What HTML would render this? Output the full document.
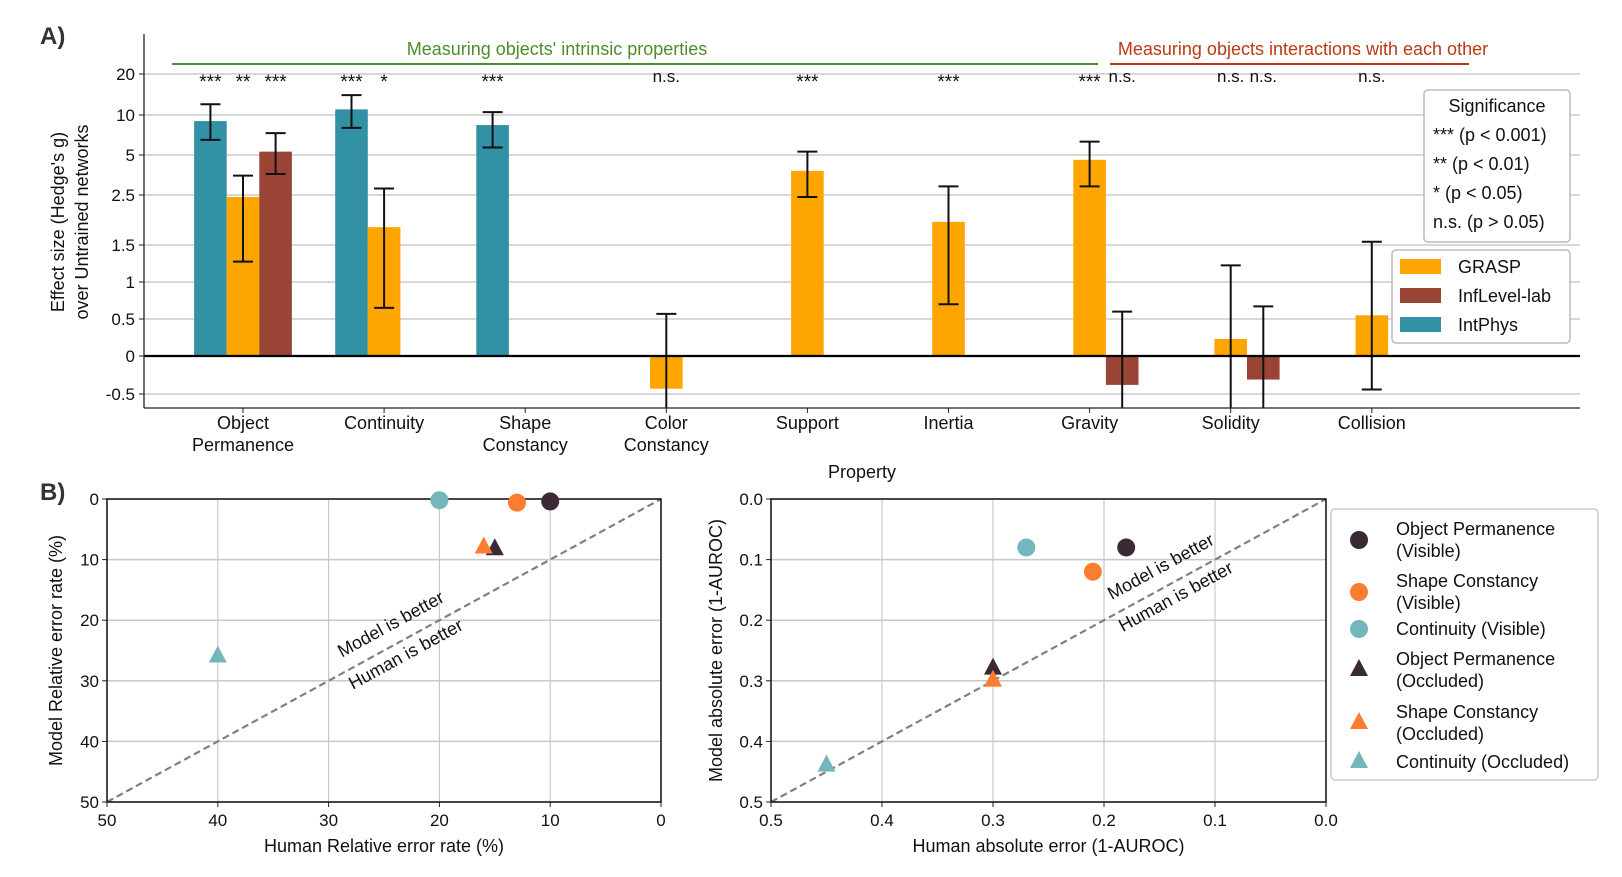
<!DOCTYPE html>
<html><head><meta charset="utf-8"><style>
html,body{margin:0;padding:0;background:#fff;}
svg{display:block;font-family:"Liberation Sans",Arial,sans-serif;}
</style></head><body>
<svg id="fig" width="1622" height="877" viewBox="0 0 1622 877" xmlns="http://www.w3.org/2000/svg">
<g id="pa"></g>
<g id="pb1"></g>
<g id="pb2"></g>
</svg>
<script>
// ---------- Panel A data ----------
const categories = ["Object Permanence","Continuity","Shape Constancy","Color Constancy","Support","Inertia","Gravity","Solidity","Collision"];
const catLines = [["Object","Permanence"],["Continuity"],["Shape","Constancy"],["Color","Constancy"],["Support"],["Inertia"],["Gravity"],["Solidity"],["Collision"]];
const seriesNames = ["GRASP","InfLevel-lab","IntPhys"];
const graspVals = [2.45, 1.8, null, -0.43, 3.8, 1.9, 4.6, 0.23, 0.55];
const graspLo   = [1.25, 0.65, null, -1.5, 2.45, 0.7, 2.9, -1.5, -0.44];
const graspHi   = [3.5, 2.8, null, 0.57, 5.3, 2.9, 6.3, 1.2, 1.55];
const graspSig  = ["**","*",null,"n.s.","***","***","***","n.s.","n.s."];
const inflVals  = [5.3, null, null, null, null, null, -0.38, -0.31, null];
const inflLo    = [3.6, null, null, null, null, null, -1.5, -1.5, null];
const inflHi    = [7.3, null, null, null, null, null, 0.6, 0.67, null];
const inflSig   = ["***",null,null,null,null,null,"n.s.","n.s.",null];
const intpVals  = [9.0, 11.0, 8.4, null, null, null, null, null, null];
const intpLo    = [6.5, 8.0, 5.7, null, null, null, null, null, null];
const intpHi    = [12.0, 14.0, 10.5, null, null, null, null, null, null];
const intpSig   = ["***","***","***",null,null,null,null,null,null];
const yTickVals = [-0.5, 0, 0.5, 1, 1.5, 2.5, 5, 10, 20];
const yTickLabels = ["-0.5","0","0.5","1","1.5","2.5","5","10","20"];

// ---------- Panel B data ----------
const bLabels = ["Object Permanence (Visible)","Shape Constancy (Visible)","Continuity (Visible)","Object Permanence (Occluded)","Shape Constancy (Occluded)","Continuity (Occluded)"];
const bMarkers = ["circle","circle","circle","triangle","triangle","triangle"];
const relHuman = [10, 13, 20, 15, 16, 40];
const relModel = [0.4, 0.6, 0.2, 8.3, 8.0, 26];
const absHuman = [0.18, 0.21, 0.27, 0.30, 0.30, 0.45];
const absModel = [0.08, 0.12, 0.08, 0.28, 0.30, 0.44];
const relTicks = [50, 40, 30, 20, 10, 0];
const absTicks = [0.5, 0.4, 0.3, 0.2, 0.1, 0.0];
const absTickLabels = ["0.5","0.4","0.3","0.2","0.1","0.0"];

const NS = "http://www.w3.org/2000/svg";
function mk(parent, tag, attrs, text){
  const e = document.createElementNS(NS, tag);
  for (const k in attrs) e.setAttribute(k, attrs[k]);
  if (text !== undefined) e.textContent = text;
  parent.appendChild(e);
  return e;
}
const COL = {grasp:"#ffa500", infl:"#9a4436", intp:"#3391a6"};
const markerCols = ["#3b2a35","#fb7d2f","#74b6bc","#3b2a35","#fb7d2f","#74b6bc"];

// ---------- Panel A ----------
const A = document.getElementById("pa");
const ax = {l:144, r:1580, t:34, b:408};
const tickPix = [394, 356, 319, 282, 245, 195, 155, 115, 74];
function yA(v){
  if (v <= yTickVals[0]) return tickPix[0] + (yTickVals[0]-v)*(tickPix[0]-tickPix[1])/0.5;
  for (let i=0;i<yTickVals.length-1;i++){
    const a=yTickVals[i], b=yTickVals[i+1];
    if (v>=a && v<=b){
      let f;
      if (a>=1) f = Math.log(v/a)/Math.log(b/a); else f=(v-a)/(b-a);
      return tickPix[i] + f*(tickPix[i+1]-tickPix[i]);
    }
  }
  const n=yTickVals.length-1;
  return tickPix[n] - Math.log(v/yTickVals[n])/Math.log(2)*41;
}
function clampY(p){ return Math.max(ax.t, Math.min(ax.b, p)); }
const groupX = i => 243 + i*141.1;
const barW = 32.6;

let t = mk(A,"text",{x:40,y:44,"font-size":24,"font-weight":"bold",fill:"#333"},"A)");



yTickVals.forEach((v,i)=>{
  const y=yA(v);
  if (v!==0){
    const g=mk(A,"line",{x1:ax.l,x2:ax.r,y1:y,y2:y,stroke:"#cccccc","stroke-width":1.5});
    
    
  }
  mk(A,"line",{x1:ax.l-5,x2:ax.l,y1:y,y2:y,stroke:"#222","stroke-width":1});
  const tl=mk(A,"text",{x:ax.l-9,y:y+6,"font-size":17,"text-anchor":"end",fill:"#111"},yTickLabels[i]);
  
  
});

function drawBar(i, off, v, lo, hi, col, sig, name){
  if (v===null) return;
  const cx = groupX(i)+off*barW;
  const y0=yA(0), y1=yA(v);
  const r=mk(A,"rect",{x:cx-barW/2,y:Math.min(y0,y1),width:barW,height:Math.abs(y1-y0),fill:col});
  
  
  const yl=clampY(yA(lo)), yh=clampY(yA(hi));
  const e=mk(A,"g",{stroke:"#111","stroke-width":2});
  
  
  mk(e,"line",{x1:cx,x2:cx,y1:yl,y2:yh});
  mk(e,"line",{x1:cx-10,x2:cx+10,y1:yh,y2:yh});
  if (yA(lo) < ax.b) mk(e,"line",{x1:cx-10,x2:cx+10,y1:yl,y2:yl});
  if (sig){
    const s=mk(A,"text",{x:cx,y:sig==="n.s."?82:88,"font-size":sig==="n.s."?17:19,"text-anchor":"middle",fill:"#111"},sig);
    
    
  }
}
categories.forEach((c,i)=>{
  drawBar(i,-1,intpVals[i],intpLo[i],intpHi[i],COL.intp,intpSig[i],"intphys");
  drawBar(i,0,graspVals[i],graspLo[i],graspHi[i],COL.grasp,graspSig[i],"grasp");
  drawBar(i,1,inflVals[i],inflLo[i],inflHi[i],COL.infl,inflSig[i],"inflevel");
  mk(A,"line",{x1:groupX(i),x2:groupX(i),y1:ax.b,y2:ax.b+5,stroke:"#222"});
  const lab=mk(A,"text",{x:groupX(i),y:429,"font-size":18,"text-anchor":"middle",fill:"#111"});
  
  
  catLines[i].forEach((ln,k)=>mk(lab,"tspan",{x:groupX(i),dy:k?22:0},ln));
});
mk(A,"line",{x1:ax.l,x2:ax.r,y1:yA(0),y2:yA(0),stroke:"#000","stroke-width":2.2});
mk(A,"line",{x1:ax.l,x2:ax.l,y1:ax.t,y2:ax.b,stroke:"#222","stroke-width":1.3});
mk(A,"line",{x1:ax.l,x2:ax.r,y1:ax.b,y2:ax.b,stroke:"#222","stroke-width":1.3});
t=mk(A,"text",{x:862,y:478,"font-size":18,"text-anchor":"middle",fill:"#111"},"Property");


t=mk(A,"text",{transform:"translate(64,222) rotate(-90)","font-size":18,"text-anchor":"middle",fill:"#111"},"Effect size (Hedge's g)");


t=mk(A,"text",{transform:"translate(88,222) rotate(-90)","font-size":18,"text-anchor":"middle",fill:"#111"},"over Untrained networks");


mk(A,"line",{x1:172,x2:1098,y1:64,y2:64,stroke:"#4e8c2a","stroke-width":2});
t=mk(A,"text",{x:557,y:55,"font-size":18,"text-anchor":"middle",fill:"#4e8c2a"},"Measuring objects' intrinsic properties");


mk(A,"line",{x1:1110,x2:1469,y1:64,y2:64,stroke:"#b83a12","stroke-width":2});
t=mk(A,"text",{x:1303,y:55,"font-size":18,"text-anchor":"middle",fill:"#b83a12"},"Measuring objects interactions with each other");


let box=mk(A,"rect",{x:1424,y:90,width:146,height:152,rx:4,fill:"#fff",stroke:"#bbb","stroke-width":1.5});


const sigRows=["Significance","*** (p < 0.001)","** (p < 0.01)","* (p < 0.05)","n.s. (p > 0.05)"];
sigRows.forEach((s,k)=>{
  const tt=mk(A,"text",{x:k?1433:1497,y:112+k*29,"font-size":18,"text-anchor":k?"start":"middle",fill:"#111"},s);
  
  
});
box=mk(A,"rect",{x:1392,y:250,width:178,height:93,rx:4,fill:"#fff",stroke:"#bbb","stroke-width":1.5});


[COL.grasp,COL.infl,COL.intp].forEach((c,k)=>{
  const sw=mk(A,"rect",{x:1400,y:259+k*29,width:41,height:15,fill:c});
  
  
  const tt=mk(A,"text",{x:1458,y:273+k*29,"font-size":18,fill:"#111"},seriesNames[k]);
  
  
});

// ---------- Panel B ----------
t=mk(document.getElementById("pb1"),"text",{x:40,y:500,"font-size":24,"font-weight":"bold",fill:"#333"},"B)");



function scatter(G, box, maxV, ticks, tickLabels, hx, my, xTitle, yTitle, yTitleX, annFrac){
  const xs=v=>box.l+(maxV-v)/maxV*(box.r-box.l);
  const ys=v=>box.t+v/maxV*(box.b-box.t);
  ticks.forEach((v,i)=>{
    const gx=mk(G,"line",{x1:xs(v),x2:xs(v),y1:box.t,y2:box.b,stroke:"#c8c8c8","stroke-width":1.2});
    
    
    const gy=mk(G,"line",{x1:box.l,x2:box.r,y1:ys(v),y2:ys(v),stroke:"#c8c8c8","stroke-width":1.5});
    
    
    mk(G,"line",{x1:xs(v),x2:xs(v),y1:box.b,y2:box.b+5,stroke:"#222"});
    mk(G,"line",{x1:box.l-5,x2:box.l,y1:ys(v),y2:ys(v),stroke:"#222"});
    const xl=mk(G,"text",{x:xs(v),y:box.b+24,"font-size":17,"text-anchor":"middle",fill:"#111"},tickLabels[i]);
    
    
    const yl=mk(G,"text",{x:box.l-8,y:ys(v)+6,"font-size":17,"text-anchor":"end",fill:"#111"},tickLabels[i]);
    
    
  });
  const d=mk(G,"line",{x1:xs(maxV),y1:ys(maxV),x2:xs(0),y2:ys(0),stroke:"#808080","stroke-width":2.2,"stroke-dasharray":"7,4"});
  
  
  mk(G,"rect",{x:box.l,y:box.t,width:box.r-box.l,height:box.b-box.t,fill:"none",stroke:"#111","stroke-width":1.5});
  const ang=-Math.atan((box.b-box.t)/(box.r-box.l))*180/Math.PI;
  const cx=(box.l+box.r)/2, cy=(box.t+box.b)/2;
  const dx=box.l+(box.r-box.l)*annFrac, dy=box.b-(box.b-box.t)*annFrac;
  let a1=mk(G,"text",{transform:`translate(${dx-7},${dy-12}) rotate(${ang})`,"font-size":18,"text-anchor":"middle",fill:"#111"},"Model is better");
  
  
  a1=mk(G,"text",{transform:`translate(${dx+8},${dy+18}) rotate(${ang})`,"font-size":18,"text-anchor":"middle",fill:"#111"},"Human is better");
  
  
  hx.forEach((h,i)=>{
    drawMarker(G,xs(h),ys(my[i]),bMarkers[i],markerCols[i]);
  });
  let xt=mk(G,"text",{x:cx,y:box.b+50,"font-size":18,"text-anchor":"middle",fill:"#111"},xTitle);
  
  
  xt=mk(G,"text",{transform:`translate(${yTitleX},${cy}) rotate(-90)`,"font-size":18,"text-anchor":"middle",fill:"#111"},yTitle);
  
  
}
function drawMarker(G,x,y,type,col){
  let m;
  if (type==="circle") m=mk(G,"ellipse",{cx:x,cy:y,rx:9,ry:9,fill:col});
  else m=mk(G,"polygon",{points:`${x},${y-11} ${x-9},${y+6} ${x+9},${y+6}`,fill:col});
  
  
  return m;
}
scatter(document.getElementById("pb1"),{l:107,r:661,t:499,b:802},50,relTicks,relTicks.map(String),relHuman,relModel,"Human Relative error rate (%)","Model Relative error rate (%)",62,0.53);
scatter(document.getElementById("pb2"),{l:771,r:1326,t:499,b:802},0.5,absTicks,absTickLabels,absHuman,absModel,"Human absolute error (1-AUROC)","Model absolute error (1-AUROC)",722,0.72);

const G2=document.getElementById("pb2");
box=mk(G2,"rect",{x:1331,y:509,width:267,height:271,rx:4,fill:"#fff",stroke:"#ccc","stroke-width":1.5});


const legRows=[540,592,629,670,723,762];
const legLines=[["Object Permanence","(Visible)"],["Shape Constancy","(Visible)"],["Continuity (Visible)"],["Object Permanence","(Occluded)"],["Shape Constancy","(Occluded)"],["Continuity (Occluded)"]];
bLabels.forEach((lbl,i)=>{
  drawMarker(G2,1359,legRows[i],bMarkers[i],markerCols[i]);
  const tt=mk(G2,"text",{x:1396,"font-size":18,fill:"#111"});
  
  
  const lines=legLines[i];
  const y0=lines.length===2?legRows[i]-5:legRows[i]+6;
  lines.forEach((ln,k)=>mk(tt,"tspan",{x:1396,y:y0+k*22},ln));
});
</script>
</body></html>
